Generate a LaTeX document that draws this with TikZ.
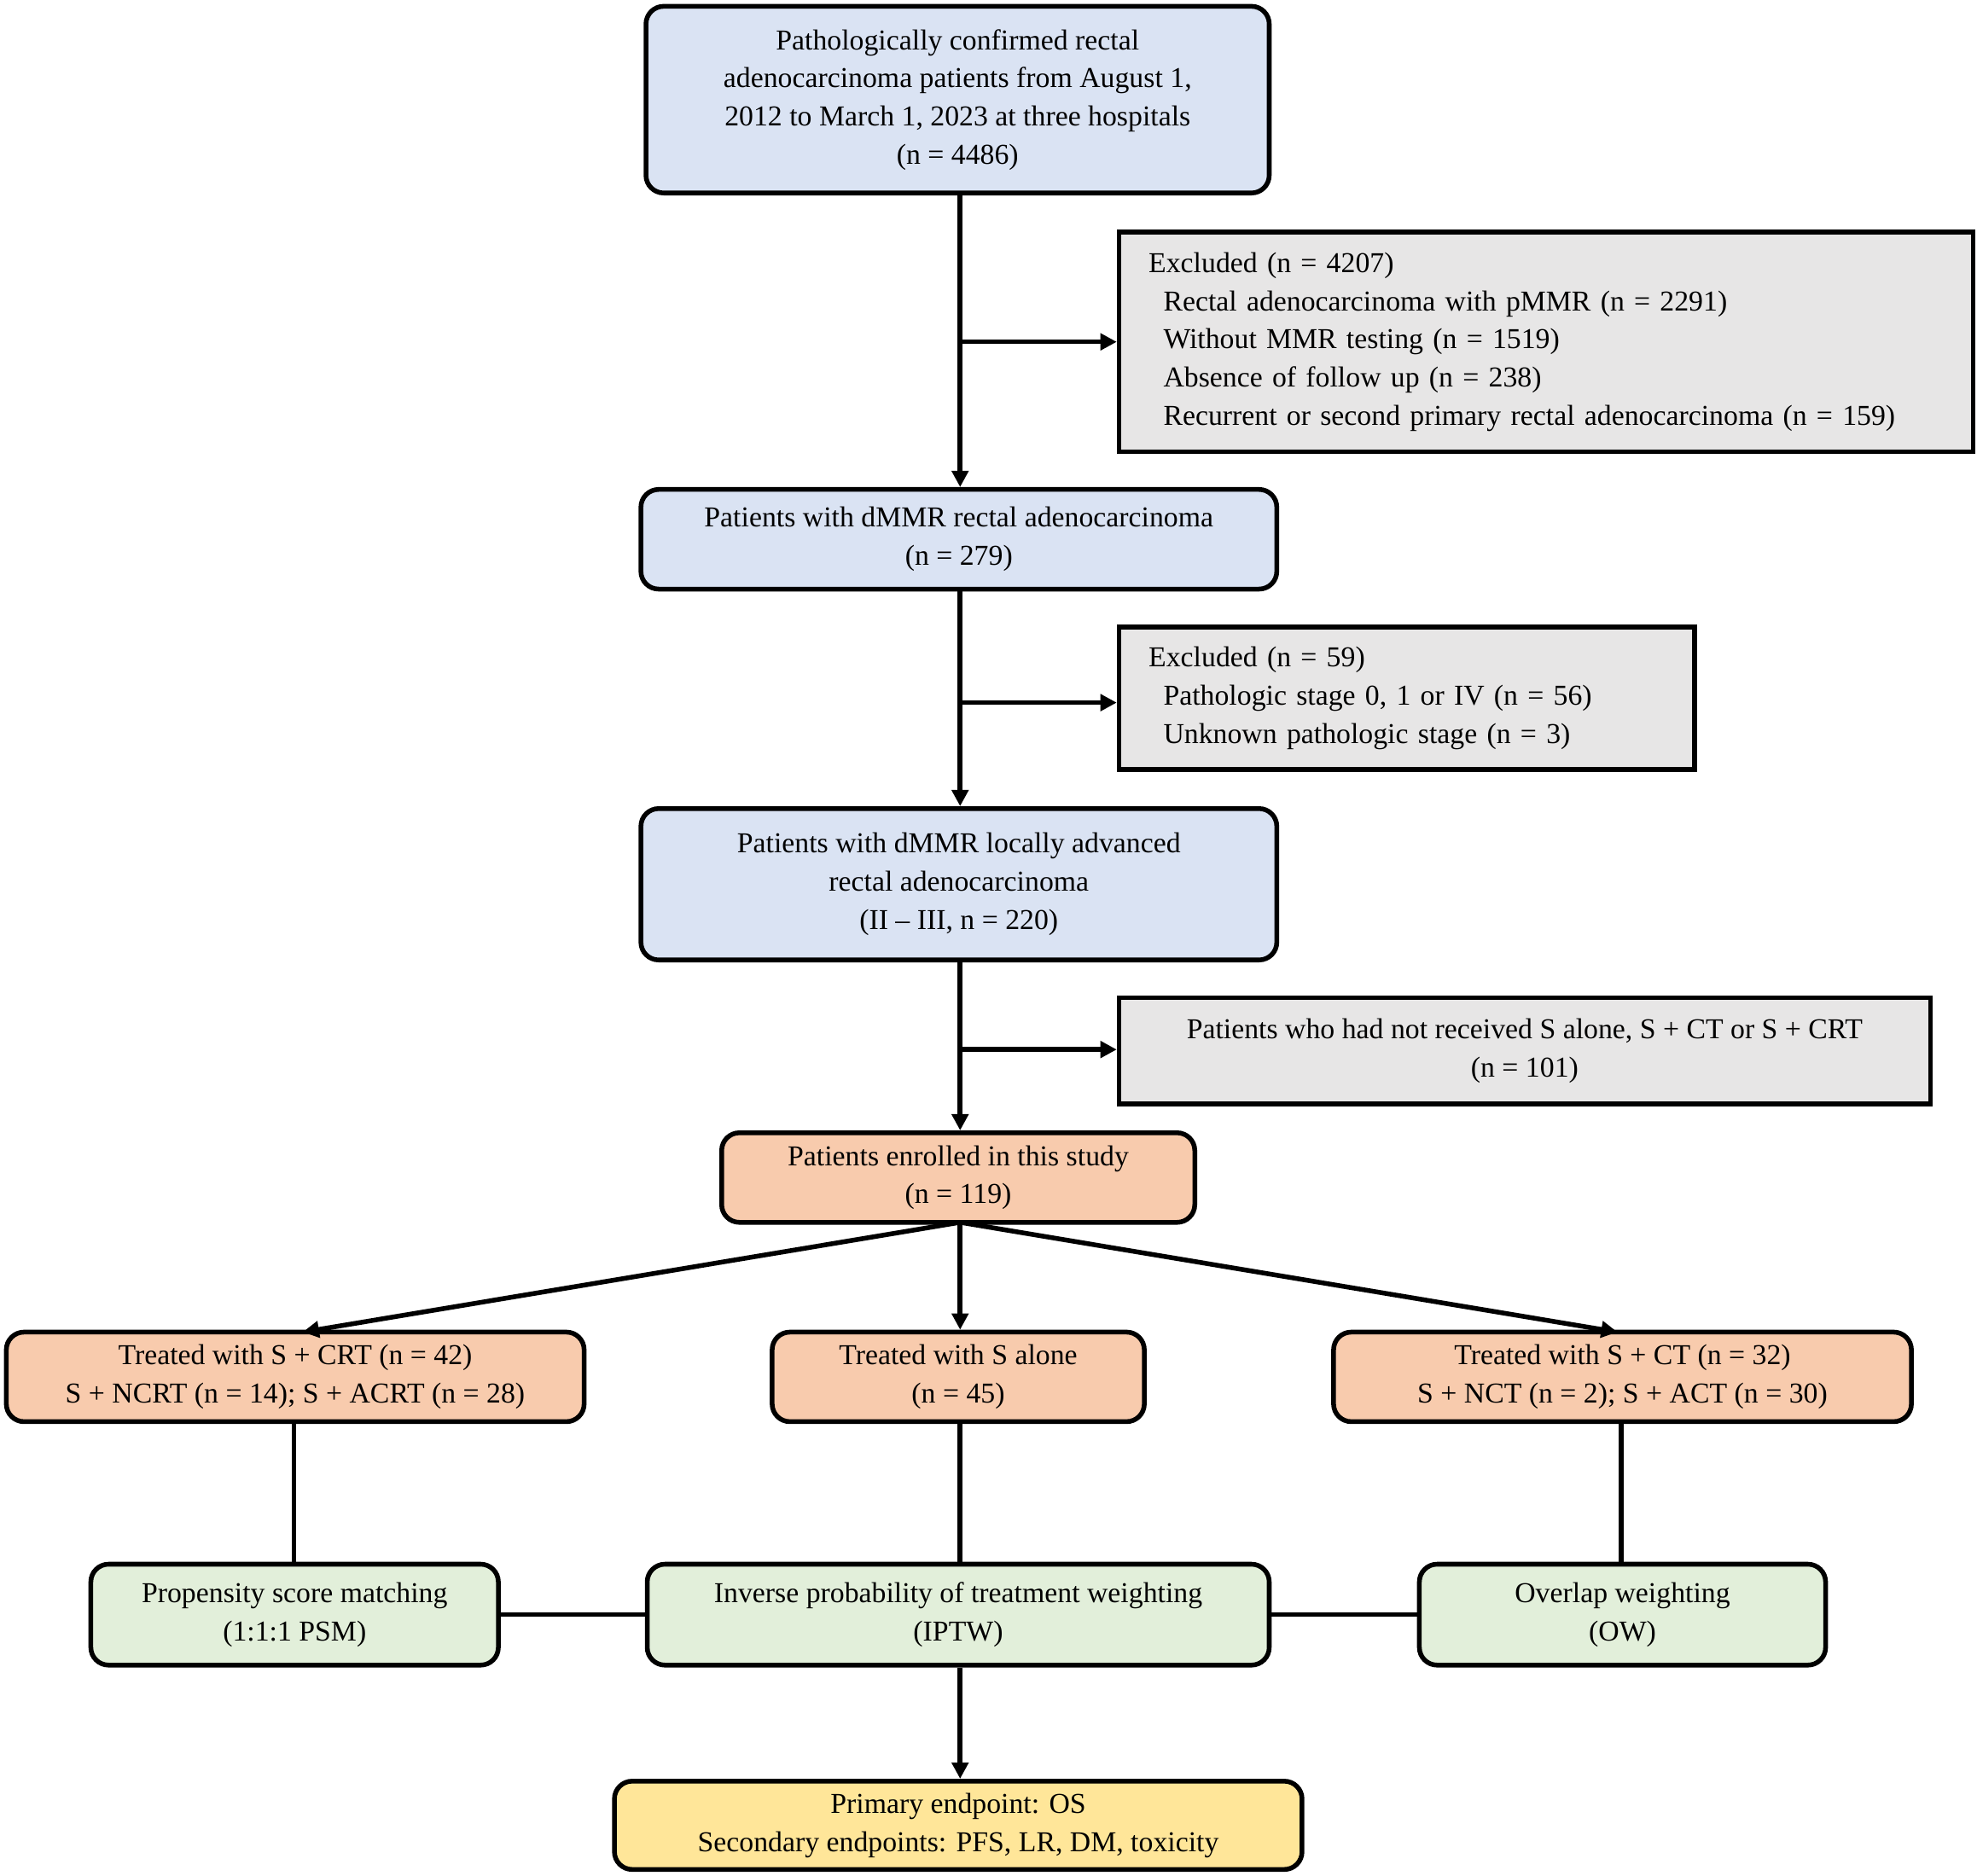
\documentclass[tikz,border=0pt]{standalone}
\usepackage{fontspec}
\setmainfont{Liberation Serif}
\usetikzlibrary{arrows.meta}
\tikzset{
 bx/.style={draw,line width=3.2pt,rounded corners=12pt,inner sep=0pt,font=\fontsize{19.5}{25.8}\selectfont,align=center},
 blue/.style={bx,fill={rgb,255:red,218;green,227;blue,243}},
 gray/.style={bx,rounded corners=0pt,fill={rgb,255:red,231;green,230;blue,230}},
 org/.style={bx,fill={rgb,255:red,248;green,203;blue,173}},
 grn/.style={bx,fill={rgb,255:red,226;green,239;blue,218}},
 yel/.style={bx,fill={rgb,255:red,255;green,230;blue,153}},
 ln/.style={line width=3.2pt},
 ar/.style={ln,-{Triangle[length=11pt,width=11pt]}}
}
\newcommand\bx[7][]{\node[#6,minimum width={(#4-#2)*0.03cm},minimum height={(#5-#3)*0.03cm},#1] (#7) at ({(#2+#4)/2},{(#3+#5)/2})}
\begin{document}
\begin{tikzpicture}[x=0.03cm,y=-0.03cm]
\useasboundingbox (0,0) rectangle (1567,1487);
\bx{512}{5}{1006}{153}{blue}{top} {Pathologically confirmed rectal\\adenocarcinoma patients from August 1,\\2012 to March 1, 2023 at three hospitals\\(n = 4486)};
\bx[text width={(1564-887)*0.03cm-40pt},align=left]{887}{184}{1564}{358}{gray}{ex1} {Excluded (n = 4207)\\\hspace*{10pt}Rectal adenocarcinoma with pMMR (n = 2291)\\\hspace*{10pt}Without MMR testing (n = 1519)\\\hspace*{10pt}Absence of follow up (n = 238)\\\hspace*{10pt}Recurrent or second primary rectal adenocarcinoma (n = 159)};
\bx{508}{388}{1012}{467}{blue}{dm} {Patients with dMMR rectal adenocarcinoma\\(n = 279)};
\bx[text width={(1343-887)*0.03cm-40pt},align=left]{887}{497}{1343}{610}{gray}{ex2} {Excluded (n = 59)\\\hspace*{10pt}Pathologic stage 0, 1 or IV (n = 56)\\\hspace*{10pt}Unknown pathologic stage (n = 3)};
\bx{508}{641}{1012}{761}{blue}{la} {Patients with dMMR locally advanced\\rectal adenocarcinoma\\(II -- III, n = 220)};
\bx{887}{791}{1530}{875}{gray}{ex3} {Patients who had not received S alone, S + CT or S + CRT\\(n = 101)};
\bx{572}{898}{947}{969}{org}{en} {Patients enrolled in this study\\(n = 119)};
\bx{5}{1056}{463}{1127}{org}{crt} {Treated with S + CRT (n = 42)\\S + NCRT (n = 14); S + ACRT (n = 28)};
\bx{612}{1056}{907}{1127}{org}{sa} {Treated with S alone\\(n = 45)};
\bx{1057}{1056}{1515}{1127}{org}{ct} {Treated with S + CT (n = 32)\\S + NCT (n = 2); S + ACT (n = 30)};
\bx{72}{1240}{395}{1320}{grn}{psm} {Propensity score matching\\(1:1:1 PSM)};
\bx{513}{1240}{1006}{1320}{grn}{ip} {Inverse probability of treatment weighting\\(IPTW)};
\bx{1125}{1240}{1447}{1320}{grn}{ow} {Overlap weighting\\(OW)};
\bx{487}{1412}{1032}{1482}{yel}{end} {Primary endpoint: OS\\Secondary endpoints: PFS, LR, DM, toxicity};
\draw[ar] (top.south -| 761,0) -- (dm.north -| 761,0);
\draw[ar] (761,271) -- (ex1.west |- 761,271);
\draw[ar] (dm.south -| 761,0) -- (la.north -| 761,0);
\draw[ar] (761,557) -- (ex2.west |- 761,557);
\draw[ar] (la.south -| 761,0) -- (en.north -| 761,0);
\draw[ar] (761,832) -- (ex3.west |- 761,832);
\coordinate (b) at (761,969);
\draw[ar] (b) -- (240,1056);
\draw[ar] (b) -- (sa.north -| 761,0);
\draw[ar] (b) -- (1282,1056);
\draw[ln] (crt.south -| 233,0) -- (psm.north -| 233,0);
\draw[ln] (sa.south -| 761,0) -- (ip.north -| 761,0);
\draw[ln] (ct.south -| 1285,0) -- (ow.north -| 1285,0);
\draw[ln] (psm.east) -- (ip.west);
\draw[ln] (ip.east) -- (ow.west);
\draw[ar] (ip.south -| 761,0) -- (end.north -| 761,0);
\end{tikzpicture}
\end{document}
